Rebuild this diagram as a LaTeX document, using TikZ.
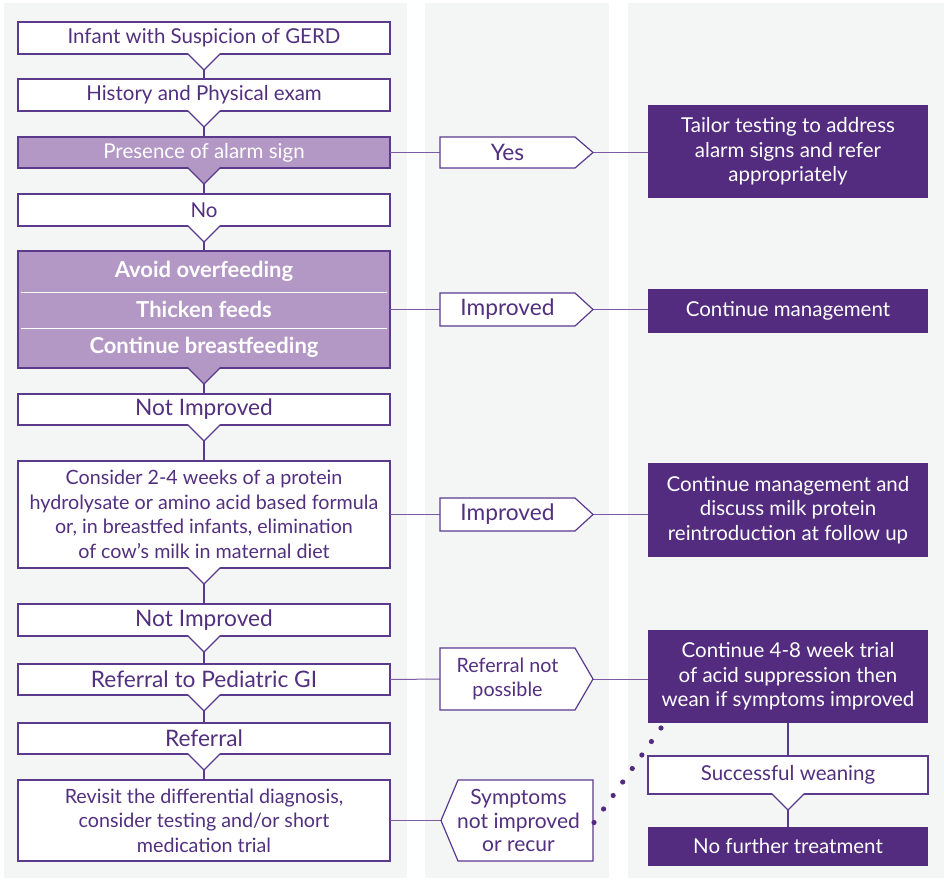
\documentclass[tikz,border=0pt]{standalone}
\usepackage{fontspec}
\setmainfont{Lato}
\usetikzlibrary{calc}
\definecolor{colbg}{HTML}{F4F6F6}
\definecolor{boxline}{HTML}{5B3A8E}
\definecolor{txtp}{HTML}{52307F}
\definecolor{midp}{HTML}{B398C6}
\definecolor{darkp}{HTML}{532C80}
\definecolor{connp}{HTML}{7B5BA3}
\tikzset{
  base/.style={rectangle, inner sep=0pt, outer sep=0pt, align=center, font=\fontsize{20.5}{24.5}\selectfont},
  wbox/.style={base, draw=boxline, line width=1.2pt, fill=white, text=txtp, minimum width=372pt},
  pbox/.style={base, draw=boxline, line width=1.2pt, fill=midp, text=white, minimum width=372pt},
  dbox/.style={base, fill=darkp, text=white, minimum width=280pt},
  tagtext/.style={base, text=txtp, minimum width=135pt},
  tagline/.style={draw=boxline, line width=1.2pt, fill=white},
  conn/.style={draw=connp, line width=1pt},
  vline/.style={draw=boxline, line width=1.2pt},
  sep/.style={draw=white, line width=1pt},
  bigtxt/.style={font=\fontsize{22.7}{26}\selectfont},
  smalltxt/.style={font=\fontsize{19.7}{24.5}\selectfont},
  boldtxt/.style={base, text=white, font=\fontsize{22}{26}\selectfont\bfseries}
}
\newcommand\mytail[2]{%
  \fill[#2] ([xshift=-16pt,yshift=0.8pt]#1.south) -- ([yshift=-16pt]#1.south) -- ([xshift=16pt,yshift=0.8pt]#1.south) -- cycle;
  \draw[vline] ([xshift=-16pt]#1.south) -- ([yshift=-16pt]#1.south) -- ([xshift=16pt]#1.south);
  \coordinate (#1apex) at ([yshift=-16pt]#1.south);
}
\newcommand\rtag[2]{%
  \path[tagline] (#1.north west) -- (#1.north east) -- ++(18,#2) -- (#1.south east) -- (#1.south west) -- cycle;
}
\begin{document}
\begin{tikzpicture}[x=1pt,y=-1pt]
\useasboundingbox (0,0) rectangle (944,879);
\fill[white] (0,0) rectangle (944,879);
\fill[colbg] (4,3) rectangle (407,878);
\fill[colbg] (425,3) rectangle (609,878);
\fill[colbg] (628,3) rectangle (944,878);

% left column boxes
\node[wbox, minimum height=32pt] (b1) at (204,38) {Infant with Suspicion of GERD};
\node[wbox, minimum height=32pt] (b2) at (204,95) {History and Physical exam};
\node[pbox, minimum height=31pt] (b3) at (204,152.5) {Presence of alarm sign};
\node[wbox, minimum height=32pt] (b4) at (204,210) {No};
\node[pbox, minimum height=117pt] (b5) at (204,309.5) {};
\node[boldtxt] (b5a) at (204,271) {Avoid overfeeding};
\node[boldtxt] (b5b) at (204,309.5) {Thicken feeds};
\node[boldtxt] (b5c) at (204,347) {Continue breastfeeding};
\draw[sep] ($(b5.north west)+(3,41)$) -- ($(b5.north east)+(-3,41)$);
\draw[sep] ($(b5.north west)+(3,77)$) -- ($(b5.north east)+(-3,77)$);
\node[wbox, bigtxt, minimum height=31pt] (b6) at (204,409.5) {Not Improved};
\node[wbox, smalltxt, minimum height=107pt] (b7) at (204,514.5) {Consider 2-4 weeks of a protein\\hydrolysate or amino acid based formula\\or, in breastfed infants, elimination\\of cow’s milk in maternal diet};
\node[wbox, bigtxt, minimum height=32pt] (b8) at (204,620) {Not Improved};
\node[wbox, bigtxt, minimum height=31pt] (b9) at (204,679.5) {Referral to Pediatric GI};
\node[wbox, bigtxt, minimum height=31pt] (b10) at (204,738.5) {Referral};
\node[wbox, smalltxt, minimum height=81pt] (b11) at (204,820.5) {Revisit the differential diagnosis,\\consider testing and/or short\\medication trial};

% tails and vertical connectors
\mytail{b1}{white}
\mytail{b2}{white}
\mytail{b3}{midp}
\mytail{b4}{white}
\mytail{b5}{midp}
\mytail{b6}{white}
\mytail{b7}{white}
\mytail{b8}{white}
\mytail{b9}{white}
\mytail{b10}{white}
\draw[vline] (b1apex) -- (b2.north);
\draw[vline] (b2apex) -- (b3.north);
\draw[vline] (b3apex) -- (b4.north);
\draw[vline] (b4apex) -- (b5.north);
\draw[vline] (b5apex) -- (b6.north);
\draw[vline] (b6apex) -- (b7.north);
\draw[vline] (b7apex) -- (b8.north);
\draw[vline] (b8apex) -- (b9.north);
\draw[vline] (b9apex) -- (b10.north);
\draw[vline] (b10apex) -- (b11.north);

% right column boxes
\node[dbox, minimum height=93pt] (r1) at (788,151.5) {Tailor testing to address\\alarm signs and refer\\appropriately};
\node[dbox, minimum height=44pt] (r2) at (788,311) {Continue management};
\node[dbox, minimum height=94pt] (r3) at (788,510) {Continue management and\\discuss milk protein\\reintroduction at follow up};
\node[dbox, minimum height=93pt] (r4) at (788,676.5) {Continue 4-8 week trial\\of acid suppression then\\wean if symptoms improved};
\node[wbox, minimum width=280pt, minimum height=38pt] (r5) at (788,775) {Successful weaning};
\node[dbox, minimum height=39pt] (r6) at (788,846.5) {No further treatment};
\draw[vline] (r4.south) -- (r5.north);
\mytail{r5}{white}
\draw[vline] (r5apex) -- (r6.north);

% middle tags (frames)
\node[tagtext, minimum height=31pt] (t1) at (507.5,152.5) {};
\node[tagtext, minimum height=33pt] (t2) at (507.5,309.5) {};
\node[tagtext, minimum height=33pt] (t3) at (507.5,514.5) {};
\node[tagtext, minimum height=62pt] (t4) at (507.5,679) {};
\node[tagtext, minimum height=81pt] (t5) at (525.5,820.5) {};

% horizontal connectors
\draw[conn] (b3.east) -- (t1.west);
\draw[conn] (b5.east) -- (t2.west);
\draw[conn] (b7.east) -- (t3.west);
\draw[conn] (b9.east) -- (t4.west);
\coordinate (t5tip) at ($(t5.west)+(-17,0)$);
\draw[conn] (b11.east) -- (t5tip);
\coordinate (t1tip) at ($(t1.east)+(18,0)$);
\coordinate (t2tip) at ($(t2.east)+(18,0)$);
\coordinate (t3tip) at ($(t3.east)+(18,0)$);
\coordinate (t4tip) at ($(t4.east)+(18,0)$);
\draw[conn] (t1tip) -- (t1tip -| r1.west);
\draw[conn] (t2tip) -- (t2tip -| r2.west);
\draw[conn] (t3tip) -- (t3tip -| r3.west);
\draw[conn] (t4tip) -- (t4tip -| r4.west);

\rtag{t1}{15.5}
\rtag{t2}{16.5}
\rtag{t3}{16.5}
\rtag{t4}{31}
\path[tagline] (t5.north east) -- (t5.north west) -- ++(-17,40.5) -- (t5.south west) -- (t5.south east) -- cycle;

\node[tagtext, bigtxt] at (t1) {Yes};
\node[tagtext, bigtxt] at (t2) {Improved};
\node[tagtext, bigtxt] at (t3) {Improved};
\node[tagtext, smalltxt] at (t4) {Referral not\\possible};
\node[tagtext, font=\fontsize{21}{23.5}\selectfont] at ([xshift=-7pt]t5.center) {Symptoms\\not improved\\or recur};

% dotted connector
\coordinate (ds) at ($(t5.east)+(1,2)$);
\coordinate (de) at ($(r4.south west)+(13,5)$);
\foreach \i in {0,...,7} \fill[darkp] ($(ds)!\i/7!(de)$) circle (2.6);
\end{tikzpicture}
\end{document}
